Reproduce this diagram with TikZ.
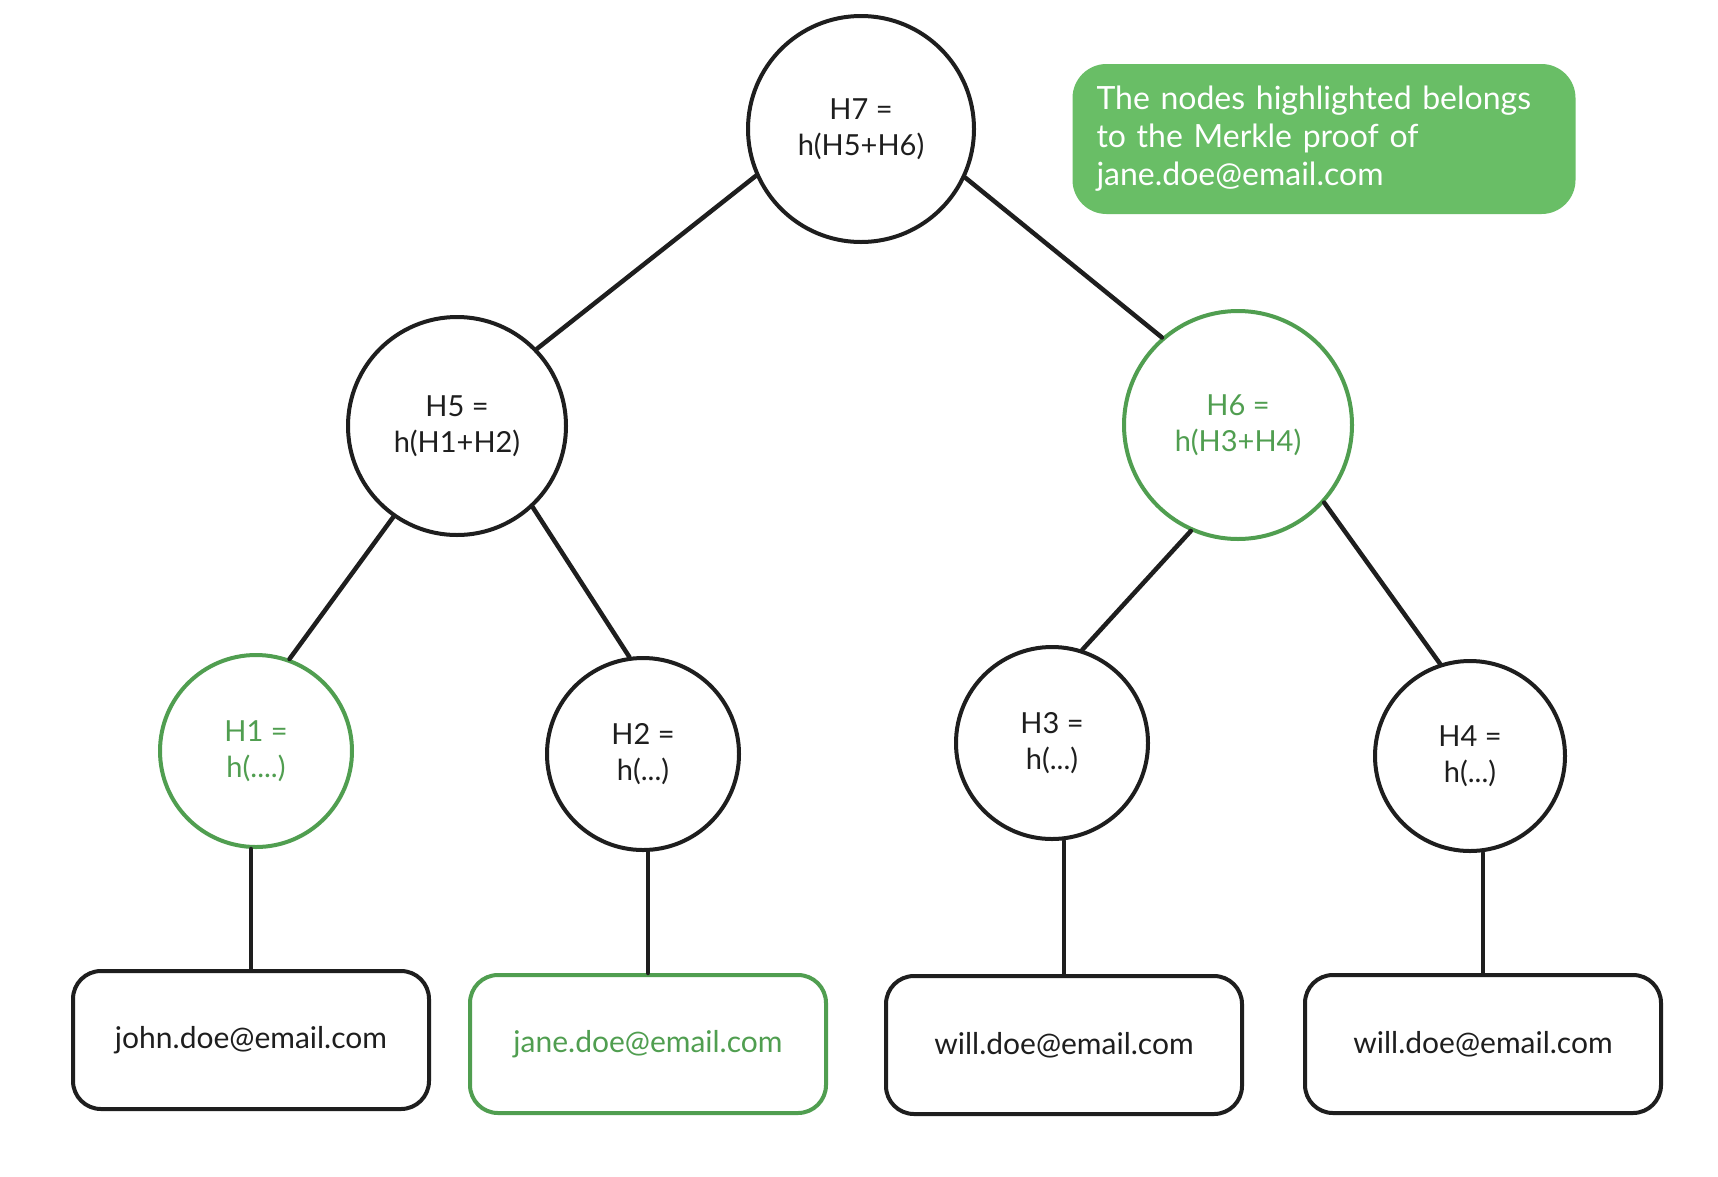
\documentclass[tikz,border=0pt]{standalone}
\usepackage{fontspec}
\setmainfont{Lato}
\definecolor{ink}{RGB}{30,30,30}
\definecolor{grn}{RGB}{80,158,80}
\definecolor{grnfill}{RGB}{105,190,102}
\begin{document}
\begin{tikzpicture}[x=1pt,y=-1pt,
  hnode/.style={circle,draw=ink,line width=4pt,inner sep=0pt,align=center,
    font=\fontsize{29}{36}\selectfont,text=ink},
  hgreen/.style={hnode,draw=grn,text=grn},
  mailbox/.style={rectangle,rounded corners=28pt,draw=ink,line width=4pt,
    minimum width=356pt,minimum height=138pt,font=\fontsize{30}{36}\selectfont,text=ink},
  mailgreen/.style={mailbox,draw=grn,text=grn},
  edge/.style={draw=ink,line width=4.5pt,line cap=round}]
\useasboundingbox (0,0) rectangle (1718,1176);
\fill[white] (0,0) rectangle (1718,1176);
% hash nodes
\node[hnode,minimum size=226pt] (h7) at (861,129) {H7 =\\h(H5+H6)};
\node[hnode,minimum size=218pt] (h5) at (457,426) {H5 =\\h(H1+H2)};
\node[hgreen,minimum size=228pt] (h6) at (1238,425) {H6 =\\h(H3+H4)};
\node[hgreen,minimum size=192pt] (h1) at (256,751) {H1 =\\h(....)};
\node[hnode,minimum size=192pt] (h2) at (643,754) {H2 =\\h(...)};
\node[hnode,minimum size=192pt] (h3) at (1052,743) {H3 =\\h(...)};
\node[hnode,minimum size=190pt] (h4) at (1470,756) {H4 =\\h(...)};
% leaves
\node[mailbox] (john) at (251,1040) {john.doe@email.com};
\node[mailgreen] (jane) at (648,1044) {jane.doe@email.com};
\node[mailbox] (will1) at (1064,1045) {will.doe@email.com};
\node[mailbox] (will2) at (1483,1044) {will.doe@email.com};
% legend
\node[rectangle,rounded corners=34pt,fill=grnfill,minimum width=503pt,minimum height=150pt,
  text width=455pt,align=left,text=white,font=\fontsize{32}{38}\selectfont] (legend) at (1324,139)
  {The nodes highlighted belongs\\to the Merkle proof of\\jane.doe@email.com};
% edges
\draw[edge] (h7.204) -- (h5.44);
\draw[edge] (h7.335) -- (h6.131);
\draw[edge] (h5.235) -- (h1.70);
\draw[edge] (h5.313) -- (h2.98);
\draw[edge] (h6.246) -- (h3.72);
\draw[edge] (h6.318) -- (h4.108);
\draw[edge] (john.north) -- (john.north |- h1.south);
\draw[edge] (jane.north) -- (jane.north |- h2.south);
\draw[edge] (will1.north) -- (will1.north |- h3.south);
\draw[edge] (will2.north) -- (will2.north |- h4.south);
\end{tikzpicture}
\end{document}
